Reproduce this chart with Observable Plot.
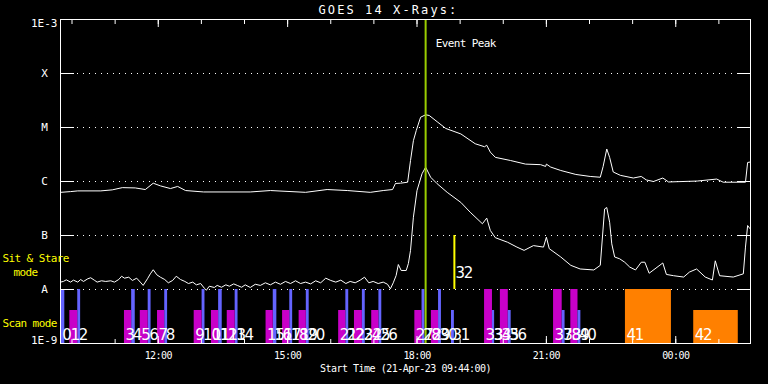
<!DOCTYPE html>
<html>
<head>
<meta charset="utf-8">
<script src="https://cdn.jsdelivr.net/npm/d3@7"></script>
<script src="https://cdn.jsdelivr.net/npm/@observablehq/plot@0.6"></script>
<style>
html,body{margin:0;padding:0;background:#000;}
#chart{width:768px;height:384px;overflow:hidden;}
#chart svg{display:block;}
text[aria-label="title"]{letter-spacing:2.1px;}
text[aria-label="small"]{letter-spacing:-0.6px;}
text[aria-label="caption"]{letter-spacing:-0.5px;}
text[aria-label="scan"]{letter-spacing:-1.2px;}
g[aria-label="x-axis tick label"] text{letter-spacing:-0.6px;}
</style>
</head>
<body>
<div id="chart"></div>
<script>
// ---------- data ----------
const titleText = "GOES 14 X-Rays:";
const captionText = "Start Time (21-Apr-23 09:44:00)";
const startTime = "2023-04-21T09:44:00Z";
const totalMinutes = 960;

// flux class levels (y tick labels)
const levelValues = [1e-8, 1e-7, 1e-6, 1e-5, 1e-4];
const levelNames = ["A", "B", "C", "M", "X"];
const topValue = [1e-3];
const topName = ["1E-3"];
const bottomValue = [1e-9];
const bottomName = ["1E-9"];

// GOES long channel (1-8 Å), minutes after start time / W m^-2
const longMin = [0,14,24,56,72,86,104,118,129,139,153,163,174,199,264,292,341,371,399,431,449,462,466,473,483,487,491,495,501,508,513,525,536,557,577,590,593,598,605,626,647,668,675,676,682,696,717,737,751,755,760,764,769,779,797,808,815,825,838,846,886,913,922,953,956,960];
const longFlux = [6.3e-7,6.5e-7,6.7e-7,6.7e-7,7.0e-7,7.7e-7,7.6e-7,7.1e-7,9.3e-7,8.3e-7,7.4e-7,8.1e-7,6.8e-7,6.4e-7,6.4e-7,6.8e-7,6.3e-7,7.1e-7,6.8e-7,6.3e-7,6.8e-7,7.1e-7,9.2e-7,9.3e-7,9.7e-7,2.45e-6,5.7e-6,8.8e-6,1.55e-5,1.72e-5,1.67e-5,1.25e-5,9.6e-6,7.6e-6,5.0e-6,4.4e-6,4.7e-6,3.5e-6,2.8e-6,2.45e-6,2.1e-6,2.05e-6,1.9e-6,2.1e-6,1.85e-6,1.6e-6,1.35e-6,1.24e-6,1.2e-6,1.9e-6,4.0e-6,2.8e-6,1.5e-6,1.3e-6,1.16e-6,1.24e-6,1.07e-6,1.0e-6,1.16e-6,9.8e-7,1.02e-6,1.11e-6,9.7e-7,9.7e-7,2.25e-6,2.3e-6];

// GOES short channel (0.5-4 Å)
const shortMin = [0,4,8,14,18,24,28,32,38,42,47,51,57,63,70,75,81,85,89,95,100,106,111,115,121,125,129,134,139,145,150,156,161,167,173,178,184,189,195,200,203,207,214,218,224,230,235,241,246,252,257,264,271,278,285,292,299,306,313,320,327,334,341,348,355,362,369,376,383,390,397,403,410,417,423,429,435,442,449,455,459,463,467,470,474,481,484,487,491,496,503,508,515,524,538,557,570,587,593,598,605,622,635,645,658,672,676,680,696,710,723,742,751,757,760,764,767,771,778,785,792,800,808,813,819,838,843,853,867,875,885,897,907,911,917,936,950,953,956,959];
const shortFlux = [1.37e-8,1.41e-8,1.51e-8,1.37e-8,1.49e-8,1.37e-8,1.53e-8,1.41e-8,1.58e-8,1.65e-8,1.49e-8,1.37e-8,1.45e-8,1.41e-8,1.45e-8,1.37e-8,1.53e-8,1.76e-8,1.62e-8,1.69e-8,1.47e-8,1.62e-8,1.37e-8,1.19e-8,1.58e-8,1.95e-8,2.32e-8,1.87e-8,1.69e-8,1.53e-8,1.33e-8,1.47e-8,1.76e-8,1.53e-8,1.41e-8,1.29e-8,1.37e-8,1.22e-8,1.29e-8,1.06e-8,0.97e-8,1.15e-8,1.09e-8,1.19e-8,1.10e-8,1.22e-8,1.15e-8,1.27e-8,1.19e-8,1.10e-8,1.22e-8,1.09e-8,1.25e-8,1.19e-8,1.33e-8,1.22e-8,1.37e-8,1.25e-8,1.41e-8,1.29e-8,1.45e-8,1.29e-8,1.37e-8,1.27e-8,1.45e-8,1.33e-8,1.62e-8,1.47e-8,1.37e-8,1.49e-8,1.29e-8,1.41e-8,1.33e-8,1.49e-8,1.69e-8,1.33e-8,1.41e-8,1.29e-8,1.37e-8,1.25e-8,1.03e-8,1.33e-8,1.82e-8,2.9e-8,2.25e-8,2.25e-8,3.03e-8,5.3e-8,2.18e-7,6.8e-7,1.39e-6,1.84e-6,1.2e-6,9.1e-7,6.3e-7,4.1e-7,2.7e-7,1.65e-7,2.1e-7,1.24e-7,9.1e-8,7.5e-8,6.1e-8,5.3e-8,6.5e-8,6.1e-8,9.3e-8,5.7e-8,4.0e-8,2.8e-8,2.4e-8,2.3e-8,2.8e-8,3.1e-7,3.3e-7,1.76e-7,7.0e-8,4.0e-8,3.7e-8,3.2e-8,2.6e-8,2.3e-8,3.2e-8,3.2e-8,2.0e-8,3.1e-8,1.9e-8,1.8e-8,1.7e-8,2.1e-8,2.4e-8,1.7e-8,1.5e-8,3.4e-8,1.8e-8,1.7e-8,1.95e-8,6.1e-8,1.53e-7,1.35e-7];

// event peak
const peakMin = [508];
const peakLabel = ["Event Peak"];

// scan-mode observations
const scanId = [0,1,2,3,4,5,6,7,8,9,10,11,12,13,14,15,16,17,18,19,20,21,22,23,24,25,26,27,28,29,30,31,33,34,35,36,37,38,39,40,41,42];
const scanStart = [1,13,24,89,99,111,122,135,145,186,197,210,220,232,243,286,296,309,319,332,342,387,397,409,420,433,443,493,503,516,526,544,590,601,612,623,686,698,710,720,786,881];
const scanEnd = [6,24,28,99,104,122,126,145,149,197,201,220,225,243,247,296,301,319,323,342,346,397,401,420,424,443,447,503,507,526,530,548,601,604,623,627,698,702,720,724,850,943];
const scanKind = ["P1","P2","P1","P2","P1","P2","P1","P2","P1","P2","P1","P2","P1","P2","P1","P2","P1","P2","P1","P2","P1","P2","P1","P2","P1","P2","P1","P2","P1","P2","P1","P3","P4","P3","P4","P3","P4","P3","P4","P3","P5","P6"];

// sit & stare observations
const sitId = [32];
const sitMin = [548];

// mode labels
const sitLabel = ["Sit & Stare"];
const sitLabel2 = ["mode"];
const scanLabel = ["Scan mode"];

// ---------- styles ----------
const kindNames = ["P1","P2","P3","P4","P5","P6"];
const kindColors = ["#6464ff","#c800c8","#6464ff","#c800c8","#ff8000","#ff8000"];
const fullKinds = ["P1","P4","P5"];
const sitBand = [1e-8, 1e-7];
const scanBand = [1e-9, 1e-8];
const MONO = "DejaVu Sans Mono";

// ---------- build ----------
const t0 = new Date(startTime);
const at = m => new Date(t0.getTime() + m * 60000);
const longData = longMin.map((m, i) => ({t: at(m), f: longFlux[i]}));
const shortData = shortMin.map((m, i) => ({t: at(m), f: shortFlux[i]}));
const scans = scanId.map((id, i) => ({id, a: at(scanStart[i]), b: at(scanEnd[i]), kind: scanKind[i]}));
const sits = sitId.map((id, i) => ({id, t: at(sitMin[i])}));
const peaks = peakMin.map((m, i) => ({t: at(m), label: peakLabel[i]}));
const sitMid = Math.sqrt(sitBand[0] * sitBand[1]);
const scanMid = Math.sqrt(scanBand[0] * scanBand[1]);
const gridLevels = levelValues;

const tag = name => () => name;

const chart = Plot.plot({
  width: 768,
  height: 384,
  marginLeft: 60,
  marginRight: 18,
  marginTop: 19,
  marginBottom: 41,
  style: {background: "#000", color: "#fff", fontFamily: MONO, fontSize: "10px"},
  x: {type: "utc", domain: [at(0), at(totalMinutes)]},
  y: {type: "log", domain: [1e-9, 1e-3]},
  color: {type: "ordinal", domain: kindNames, range: kindColors},
  marks: [
    Plot.gridY(gridLevels, {stroke: "#fff", strokeOpacity: 1, strokeDasharray: "1,5", strokeDashoffset: -5}),
    Plot.rect(scans.filter(d => fullKinds.includes(d.kind)), {x1: "a", x2: "b", y1: scanBand[0], y2: scanBand[1], fill: "kind"}),
    Plot.rect(scans.filter(d => !fullKinds.includes(d.kind)), {x1: "a", x2: "b", y1: scanBand[0], y2: scanBand[1], fill: "kind", insetTop: 21}),
    Plot.line(longData, {x: "t", y: "f", stroke: "#fff", strokeWidth: 1}),
    Plot.line(shortData, {x: "t", y: "f", stroke: "#fff", strokeWidth: 1}),
    Plot.ruleX(sits, {x: "t", y1: sitBand[0], y2: sitBand[1], stroke: "#ffff00", strokeWidth: 2}),
    Plot.ruleX(peaks, {x: "t", stroke: "#9acd00", strokeWidth: 2}),
    Plot.frame({stroke: "#fff"}),
    // axis ticks (inward)
    Plot.axisX({anchor: "bottom", ticks: d3.utcHour.every(1), tickSize: -4, tickFormat: () => "", label: null}),
    Plot.axisX({anchor: "bottom", ticks: d3.utcHour.every(3), tickSize: -7, tickFormat: () => "", label: null}),
    Plot.axisX({anchor: "top", ticks: d3.utcHour.every(1), tickSize: -4, tickFormat: () => "", label: null}),
    Plot.axisX({anchor: "top", ticks: d3.utcHour.every(3), tickSize: -7, tickFormat: () => "", label: null}),
    Plot.axisX({anchor: "bottom", ticks: d3.utcHour.every(3), tickSize: 0, tickPadding: 8, tickFormat: d3.utcFormat("%H:%M"), label: null, fontSize: 10}),
    Plot.axisY({anchor: "left", ticks: gridLevels, tickSize: -14, tickFormat: () => "", label: null}),
    Plot.axisY({anchor: "right", ticks: gridLevels, tickSize: -14, tickFormat: () => "", label: null}),
    // y labels
    Plot.text(levelValues, {y: d => d, text: (d, i) => levelNames[i], frameAnchor: "left", dx: -16, textAnchor: "middle", lineAnchor: "middle", fontSize: 11, fill: "#fff"}),
    Plot.text(topValue, {y: d => d, text: (d, i) => topName[i], frameAnchor: "left", dx: -3, dy: 4, textAnchor: "end", lineAnchor: "middle", fontSize: 11, fill: "#fff"}),
    Plot.text(bottomValue, {y: d => d, text: (d, i) => bottomName[i], frameAnchor: "left", dx: -3, dy: -3.5, textAnchor: "end", lineAnchor: "middle", fontSize: 11, fill: "#fff"}),
    // mode labels
    Plot.text(sitLabel, {y: sitMid, frameAnchor: "left", dx: -58, dy: -4.5, textAnchor: "start", lineAnchor: "middle", fill: "#ffff00", fontSize: 11, ariaLabel: tag("small")}),
    Plot.text(sitLabel2, {y: sitMid, frameAnchor: "left", dx: -47, dy: 9.5, textAnchor: "start", lineAnchor: "middle", fill: "#ffff00", fontSize: 11, ariaLabel: tag("small")}),
    Plot.text(scanLabel, {y: scanMid, frameAnchor: "left", dx: -58, dy: 6.5, textAnchor: "start", lineAnchor: "middle", fill: "#ffff00", fontSize: 11, ariaLabel: tag("small")}),
    // title, caption, event label
    Plot.text([titleText], {frameAnchor: "top-left", dx: 258, dy: -9.5, textAnchor: "start", lineAnchor: "middle", fontSize: 12, fill: "#fff", ariaLabel: tag("title")}),
    Plot.text([captionText], {frameAnchor: "bottom", dy: 25, lineAnchor: "middle", fontSize: 10, fill: "#fff", ariaLabel: tag("caption")}),
    Plot.text(peaks, {x: "t", text: "label", frameAnchor: "top", dx: 10, dy: 24, textAnchor: "start", lineAnchor: "middle", fontSize: 11, fill: "#fff", ariaLabel: tag("small")}),
    // observation numbers
    Plot.text(scans, {x: "a", text: d => String(d.id), frameAnchor: "bottom", dx: 1, dy: -4, textAnchor: "start", lineAnchor: "bottom", fontFamily: "DejaVu Sans", fontSize: 15, fill: "#fff", ariaLabel: tag("scan")}),
    Plot.text(sits, {x: "t", y: sitBand[0], text: d => String(d.id), dx: 1, dy: -12, textAnchor: "start", lineAnchor: "bottom", fontFamily: "DejaVu Sans", fontSize: 15, fill: "#fff", ariaLabel: tag("scan")})
  ]
});
document.getElementById("chart").appendChild(chart);
</script>
</body>
</html>
